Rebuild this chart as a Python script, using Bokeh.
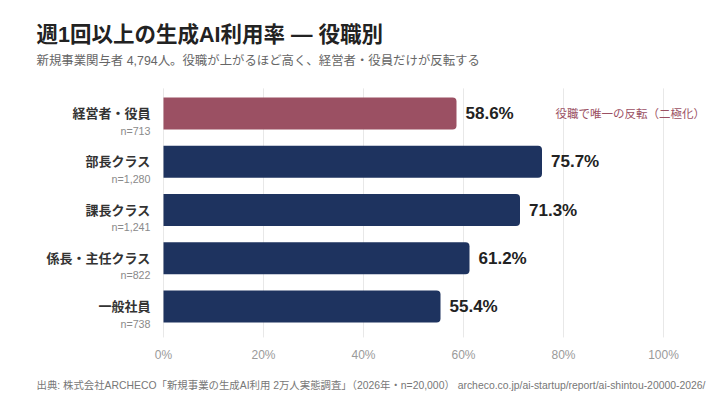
from bokeh.plotting import figure
from bokeh.models import Range1d, ColumnDataSource
from bokeh.core.properties import value
from bokeh.embed import file_html
from bokeh.resources import INLINE

categories = ["経営者・役員", "部長クラス", "課長クラス", "係長・主任クラス", "一般社員"]
sample_sizes = ["n=713", "n=1,280", "n=1,241", "n=822", "n=738"]
rates = [58.6, 75.7, 71.3, 61.2, 55.4]
highlighted = [True, False, False, False, False]
x_ticks = [0, 20, 40, 60, 80, 100]
tick_labels = ["0%", "20%", "40%", "60%", "80%", "100%"]

title_text = "週1回以上の生成AI利用率 — 役職別"
subtitle_text = "新規事業関与者 4,794人。役職が上がるほど高く、経営者・役員だけが反転する"
note_text = "役職で唯一の反転（二極化）"
source_text = "出典: 株式会社ARCHECO「新規事業の生成AI利用 2万人実態調査」（2026年・n=20,000）  archeco.co.jp/ai-startup/report/ai-shintou-20000-2026/"

FONT = value("'Liberation Sans', 'Noto Sans CJK JP'")
MAUVE = "#9B5063"
NAVY = "#1E335F"

W, H = 712, 393
X0_PX, PX_PER_X = 163, 5.0          # pixel of x=0, pixels per percent
Y0_PX, PX_PER_ROW = 113, 48.26      # pixel of first row centre, pixels per row
PX_X = 1 / PX_PER_X
PX_Y = 1 / PX_PER_ROW
Y_TOP = -0.52      # top of plotting area (row units)
Y_BOT = 4.64       # bottom of plotting area (row units)

p = figure(width=W, height=H, output_backend="svg", toolbar_location=None,
           x_range=Range1d(-X0_PX * PX_X, (W - X0_PX) * PX_X),
           y_range=Range1d((H - Y0_PX) * PX_Y, -Y0_PX * PX_Y),
           min_border=0, min_border_left=0, min_border_right=0,
           min_border_top=0, min_border_bottom=0)
p.outline_line_color = None
p.background_fill_color = "white"
p.border_fill_color = "white"
p.xaxis.visible = False
p.yaxis.visible = False
p.xgrid.visible = False
p.ygrid.visible = False

rows = list(range(len(categories)))
x_left = [-13 * PX_X] * len(rows)

# vertical gridlines from the tick list
p.segment(x0=x_ticks, x1=x_ticks, y0=[Y_TOP] * len(x_ticks), y1=[Y_BOT] * len(x_ticks),
          line_color="#e8e8e8", line_width=1)
# tick labels
p.text(x=x_ticks, y=[Y_BOT + 18 * PX_Y] * len(x_ticks), text=tick_labels,
       text_align="center", text_baseline="middle", text_font=FONT,
       text_font_size="12px", text_color="#9a9a9a")

src = ColumnDataSource(dict(
    y=rows,
    zero=[0] * len(rows),
    rate=rates,
    color=[MAUVE if h else NAVY for h in highlighted],
))
p.hbar(y="y", left="zero", right="rate", height=0.66, source=src,
       fill_color="color", line_color=None, border_radius=(0, 4, 4, 0))

# value labels
p.text(x=[r + 9 * PX_X for r in rates], y=rows, text=[f"{r:.1f}%" for r in rates],
       text_baseline="middle", text_font=FONT, text_font_size="17px",
       text_font_style="bold", text_color="#222222")
# category names and sample sizes
p.text(x=x_left, y=rows, text=categories, text_align="right", text_baseline="middle",
       text_font=FONT, text_font_size="13px", text_font_style="bold", text_color="#333333")
p.text(x=x_left, y=[r + 17 * PX_Y for r in rows], text=sample_sizes, text_align="right",
       text_baseline="middle", text_font=FONT, text_font_size="10.7px", text_color="#8a8a8a")

# annotation next to the highlighted bar
p.text(x=[rates[0] + 99 * PX_X], y=[rows[0]], text=[note_text], text_baseline="middle",
       text_font=FONT, text_font_size="11.5px", text_color=MAUVE)

def px(xp, yp):
    return (xp - X0_PX) * PX_X, (yp - Y0_PX) * PX_Y

tx, ty = px(36, 34)
p.text(x=[tx], y=[ty], text=[title_text], text_baseline="middle", text_font=FONT,
       text_font_size="21.5px", text_font_style="bold", text_color="#222222")
sx, sy = px(36, 60.5)
p.text(x=[sx], y=[sy], text=[subtitle_text], text_baseline="middle", text_font=FONT,
       text_font_size="12.4px", text_color="#666666")
cx, cy = px(36, 385)
p.text(x=[cx], y=[cy], text=[source_text], text_baseline="middle", text_font=FONT,
       text_font_size="10.4px", text_color="#777777")

open("out.html", "w").write(file_html(p, INLINE))
